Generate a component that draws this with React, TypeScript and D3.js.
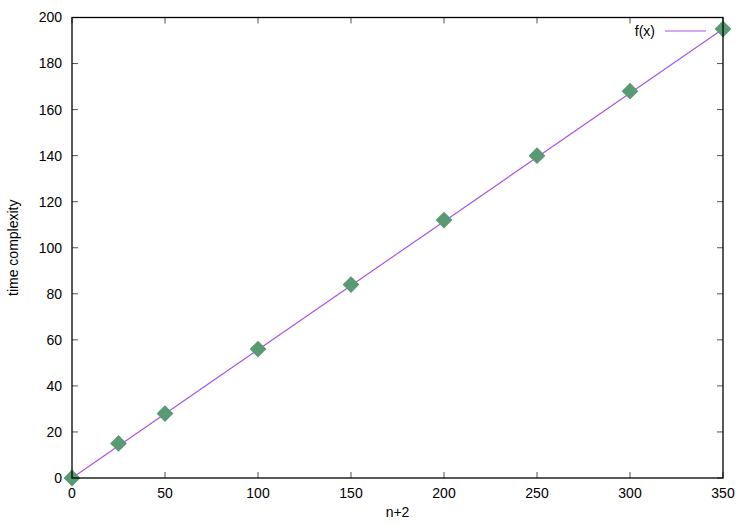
import React from 'react';
import * as d3 from 'd3';

// sampled points
const sizes = [0, 25, 50, 100, 150, 200, 250, 300, 350];
const costs = [0, 15, 28, 56, 84, 112, 140, 168, 195];

// f(x) line end points
const fitX = [0, 350];
const fitY = [0, 195];

const xTicks = [0, 50, 100, 150, 200, 250, 300, 350];
const yTicks = [0, 20, 40, 60, 80, 100, 120, 140, 160, 180, 200];

const W = 750;
const H = 525;
const margin = { top: 17.5, right: 27, bottom: 47, left: 72 };
const font = 'Helvetica, Arial, "Liberation Sans", sans-serif';

export default function App() {
  const x = d3.scaleLinear().domain([0, 350]).range([margin.left, W - margin.right]);
  const y = d3.scaleLinear().domain([0, 200]).range([H - margin.bottom, margin.top]);

  const line = d3.line<number>()
    .x((_, i) => x(fitX[i]))
    .y((d) => y(d));

  const diamond = d3.symbol().type(d3.symbolDiamond2).size(180)();

  const x0 = x.range()[0];
  const x1 = x.range()[1];
  const y0 = y.range()[0];
  const y1 = y.range()[1];
  const tick = 6;

  return (
    <svg width={W} height={H} style={{ position: 'absolute', left: 0, top: 0, background: '#fff' }} fontFamily={font}>
      <rect width={W} height={H} fill="#fff" />
      {/* ticks, mirrored on all sides */}
      <g stroke="#555" strokeWidth={1}>
        {xTicks.map((t) => (
          <g key={'x' + t}>
            <line x1={x(t)} x2={x(t)} y1={y0} y2={y0 - tick} />
            <line x1={x(t)} x2={x(t)} y1={y1} y2={y1 + tick} />
          </g>
        ))}
        {yTicks.map((t) => (
          <g key={'y' + t}>
            <line x1={x0} x2={x0 + tick} y1={y(t)} y2={y(t)} />
            <line x1={x1} x2={x1 - tick} y1={y(t)} y2={y(t)} />
          </g>
        ))}
      </g>
      <g fontSize={14} fill="#000">
        {xTicks.map((t) => (
          <text key={'xl' + t} x={x(t)} y={y0 + 20} textAnchor="middle">{t}</text>
        ))}
        {yTicks.map((t) => (
          <text key={'yl' + t} x={x0 - 10} y={y(t)} dy="0.35em" textAnchor="end">{t}</text>
        ))}
        <text x={(x0 + x1) / 2} y={H - 8} textAnchor="middle">n+2</text>
        <text transform={`translate(18, ${(y0 + y1) / 2}) rotate(-90)`} textAnchor="middle">time complexity</text>
      </g>
      <path d={line(fitY) ?? ''} fill="none" stroke="#a855e6" strokeWidth={1.2} />
      {sizes.map((s, i) => (
        <path key={s} d={diamond ?? ''} transform={`translate(${x(s)}, ${y(costs[i])})`} fill="#5a9a72" />
      ))}
      {/* legend */}
      <text x={655} y={31} dy="0.35em" fontSize={14} textAnchor="end">f(x)</text>
      <line x1={665} x2={706} y1={31} y2={31} stroke="#a855e6" strokeWidth={1.2} />
      <rect x={x0} y={y1} width={x1 - x0} height={y0 - y1} fill="none" stroke="#000" strokeWidth={1.3} />
    </svg>
  );
}
